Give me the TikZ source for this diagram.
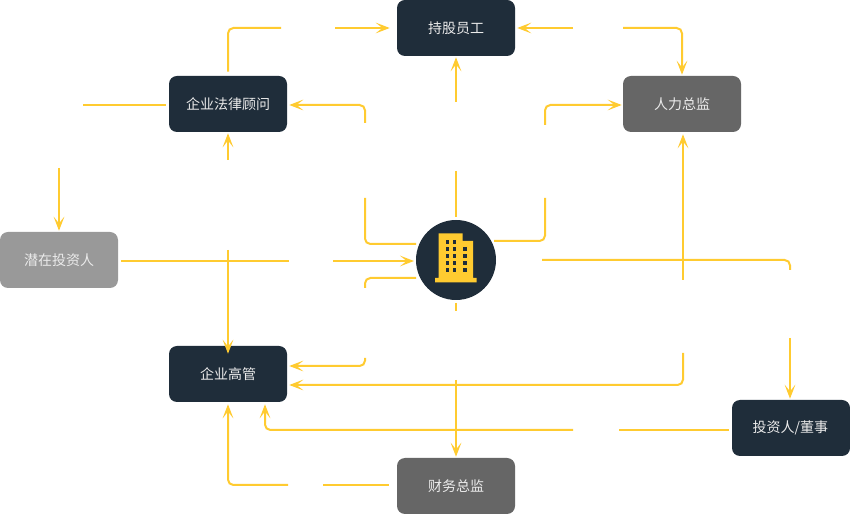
\documentclass[tikz,border=0pt]{standalone}
\usepackage{fontspec}
\setmainfont{Noto Sans CJK SC}
\usetikzlibrary{arrows.meta}
\definecolor{ylw}{HTML}{FFCB30}
\definecolor{navy}{HTML}{1F2D3A}
\definecolor{midgray}{HTML}{666666}
\definecolor{lightgray2}{HTML}{999999}
\tikzset{
  box/.style={rectangle,rounded corners=6pt,minimum width=88.5pt,minimum height=42pt,inner sep=0pt,text=white!92!black,font=\fontsize{10.5pt}{12pt}\selectfont},
  darkbox/.style={box,fill=navy},
  graybox/.style={box,fill=midgray},
  palebox/.style={box,fill=lightgray2},
  link/.style={draw=ylw,line width=1.5pt,rounded corners=4pt},
  arrowlink/.style={link,-{Stealth[length=10.5pt,width=8pt,inset=5pt]}},
  bldg/.style={fill=ylw,draw=none},
  win/.style={fill=navy,draw=none},
}
\begin{document}
\begin{tikzpicture}[x=0.75pt,y=-0.75pt]
\useasboundingbox (0,0) rectangle (850,530);
\fill[white] (0,0) rectangle (850,530);
% free connector ends
\coordinate (a1) at (281,28);
\coordinate (a2) at (335,28);
\coordinate (b1) at (573,28);
\coordinate (b2) at (623,28);
\coordinate (c1) at (365,123);
\coordinate (d1) at (456,102);
\coordinate (d2) at (456,171);
\coordinate (d3) at (456,217);
\coordinate (e1) at (545,125);
\coordinate (f1) at (365,198);
\coordinate (f2) at (416,244);
\coordinate (g1) at (545,198);
\coordinate (g2) at (494,241);
\coordinate (h1) at (289,261);
\coordinate (h2) at (333,261);
\coordinate (h3) at (414,261);
\coordinate (i1) at (365,288);
\coordinate (i2) at (416,278);
\coordinate (j1) at (456,303);
\coordinate (j2) at (456,311);
\coordinate (k1) at (542,260);
\coordinate (k2) at (790,270);
\coordinate (k3) at (790,338);
\coordinate (l1) at (683,280);
\coordinate (m1) at (683,353);
\coordinate (n1) at (365,358);
\coordinate (o1) at (456,380);
\coordinate (p1) at (228,250);
\coordinate (q1) at (228,160);
\coordinate (r1) at (83,105);
\coordinate (s1) at (59,168);
\coordinate (t1) at (619,430);
\coordinate (t2) at (573,430);
\coordinate (u1) at (323,485);
\coordinate (u2) at (288,485);
% nodes
\node[darkbox] (staff) at (456,28) {持股员工};
\node[darkbox] (legal) at (228,104) {企业法律顾问};
\node[graybox] (hr) at (682,104) {人力总监};
\node[palebox] (pot) at (59,260) {潜在投资人};
\node[darkbox] (exec) at (228,374) {企业高管};
\node[darkbox] (inv) at (791,428) {\hspace{-1pt}投资人/董事};
\node[graybox] (fin) at (456,486) {财务总监};
\node[circle,fill=navy,minimum size=60pt,inner sep=0pt] (hub) at (456,260) {};
% building icon
\fill[bldg] (438.5,233.5) -- (462.7,233.5) -- (462.7,241) -- (473,241) -- (473,278) -- (476.7,278) -- (476.7,282.3) -- (435,282.3) -- (435,278) -- (438.5,278) -- cycle;
\foreach \wx in {445.5,452.5}\foreach \wy in {240.5,247.5,254.5,261.5,268.5}{\fill[win] (\wx,\wy) rectangle +(3.6,3.6);}
\foreach \wy in {247.5,254.5,261.5,268.5}{\fill[win] (462.9,\wy) rectangle +(3.6,3.6);}
% connectors
\draw[link,shorten <=3pt] (legal.north) |- (a1);
\draw[arrowlink,shorten >=5.25pt] (a2) -- (staff.west);
\draw[arrowlink,shorten >=1.5pt] (b1) -- (staff.east);
\draw[arrowlink,shorten >=0.75pt] (b2) -| (hr.north);
\draw[arrowlink,shorten >=1.5pt] (c1) |- (legal.east |- 0,105);
\draw[arrowlink,shorten >=0.75pt] (d1) -- (staff.south);
\draw[link] (d2) -- (d3);
\draw[arrowlink,shorten >=0.75pt] (e1) |- (hr.west |- 0,105);
\draw[link] (f1) |- (f2);
\draw[link] (g1) |- (g2);
\draw[link,shorten <=2.25pt] (pot.east |- h1) -- (h1);
\draw[arrowlink] (h2) -- (h3);
\draw[link] (i1) |- (i2);
\draw[link] (j1) -- (j2);
\draw[link] (k1) -| (k2);
\draw[arrowlink,shorten >=0.75pt] (k3) -- (inv.north -| k3);
\draw[arrowlink,shorten >=1.5pt] (l1) -- (hr.south -| l1);
\draw[arrowlink,shorten >=1.5pt] (m1) |- (exec.east |- 0,385);
\draw[arrowlink,shorten >=1.5pt] (n1) |- (exec.east |- 0,366);
\draw[arrowlink,shorten >=0.75pt] (o1) -- (fin.north);
\draw[arrowlink,shorten >=-6pt] (p1) -- (exec.north);
\draw[arrowlink,shorten >=0.75pt] (q1) -- (legal.south);
\draw[link,shorten >=2.25pt] (r1) -- (legal.west |- r1);
\draw[arrowlink,shorten >=0.75pt] (s1) -- (pot.north);
\draw[link,shorten <=2.25pt] (inv.west |- t1) -- (t1);
\draw[arrowlink,shorten >=1.5pt] (t2) -| (exec.south -| 265,0);
\draw[link,shorten <=6pt] (fin.west |- u1) -- (u1);
\draw[arrowlink,shorten >=1.5pt] (u2) -| (exec.south);
\end{tikzpicture}
\end{document}
